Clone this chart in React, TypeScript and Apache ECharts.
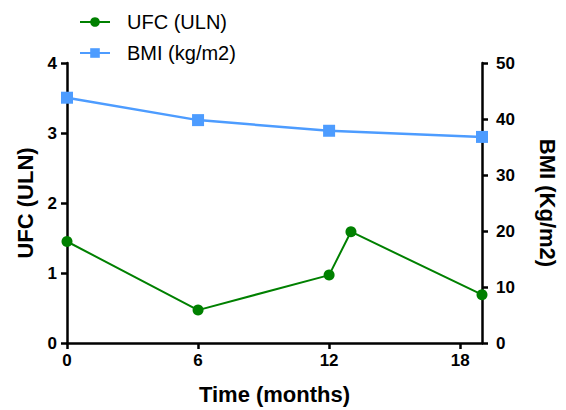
import React, { useEffect, useRef } from "react";
import * as echarts from "echarts";

const ufcMonths = [0, 6, 12, 13, 19];
const ufcValues = [1.45, 0.47, 0.97, 1.59, 0.69];
const bmiMonths = [0, 6, 12, 19];
const bmiValues = [43.8, 39.8, 37.9, 36.8];
const xTicks = [0, 6, 12, 18];

const GREEN = "#008000";
const BLUE = "#4d9cff";
const FONT = "Liberation Sans, Arial, sans-serif";

export default function App() {
  const ref = useRef<HTMLDivElement>(null);
  useEffect(() => {
    if (!ref.current) return;
    const chart = echarts.init(ref.current, undefined, { renderer: "svg" });
    const axisLine = { show: true, lineStyle: { color: "#000", width: 2.5 } };
    const axisTick = { show: true, length: 6, lineStyle: { color: "#000", width: 2.5 } };
    const labelStyle = { color: "#000", fontWeight: "bold" as const, fontSize: 17, fontFamily: FONT };
    const nameStyle = { color: "#000", fontWeight: "bold" as const, fontSize: 22, fontFamily: FONT };
    chart.setOption({
      animation: false,
      textStyle: { fontFamily: FONT },
      legend: {
        orient: "vertical",
        left: 74,
        top: 7,
        itemWidth: 30,
        itemHeight: 12,
        itemGap: 11,
        textStyle: { color: "#000", fontSize: 20, fontFamily: FONT, padding: [0, 0, 0, 12] },
        data: ["UFC (ULN)", "BMI (kg/m2)"],
      },
      grid: { left: 67, right: 78, top: 63, bottom: 67, containLabel: false },
      xAxis: {
        type: "value",
        min: 0,
        max: 19,
        interval: 6,
        name: "Time (months)",
        nameLocation: "middle",
        nameGap: 40,
        nameTextStyle: nameStyle,
        axisLine,
        axisTick: { ...axisTick, customValues: xTicks },
        axisLabel: { ...labelStyle, margin: 9, customValues: xTicks },
        splitLine: { show: false },
      },
      yAxis: [
        {
          type: "value",
          min: 0,
          max: 4,
          interval: 1,
          position: "left",
          name: "UFC (ULN)",
          nameLocation: "middle",
          nameGap: 29,
          nameTextStyle: nameStyle,
          axisLine,
          axisTick,
          axisLabel: { ...labelStyle, margin: 10 },
          splitLine: { show: false },
        },
        {
          type: "value",
          min: 0,
          max: 50,
          interval: 10,
          position: "right",
          name: "BMI (Kg/m2)",
          nameLocation: "middle",
          nameGap: 54,
          nameRotate: -90,
          nameTextStyle: nameStyle,
          axisLine,
          axisTick,
          axisLabel: { ...labelStyle, margin: 14 },
          splitLine: { show: false },
        },
      ],
      series: [
        {
          name: "UFC (ULN)",
          type: "line",
          yAxisIndex: 0,
          data: ufcMonths.map((m, i) => [m, ufcValues[i]]),
          symbol: "circle",
          symbolSize: 11,
          lineStyle: { color: GREEN, width: 2 },
          itemStyle: { color: GREEN },
          z: 3,
        },
        {
          name: "BMI (kg/m2)",
          type: "line",
          yAxisIndex: 1,
          data: bmiMonths.map((m, i) => [m, bmiValues[i]]),
          symbol: "rect",
          symbolSize: 12,
          lineStyle: { color: BLUE, width: 2.5 },
          itemStyle: { color: BLUE },
          z: 2,
        },
      ],
    });
    return () => chart.dispose();
  }, []);
  return <div ref={ref} style={{ width: 566, height: 410, position: "absolute", left: 0, top: 0 }} />;
}
